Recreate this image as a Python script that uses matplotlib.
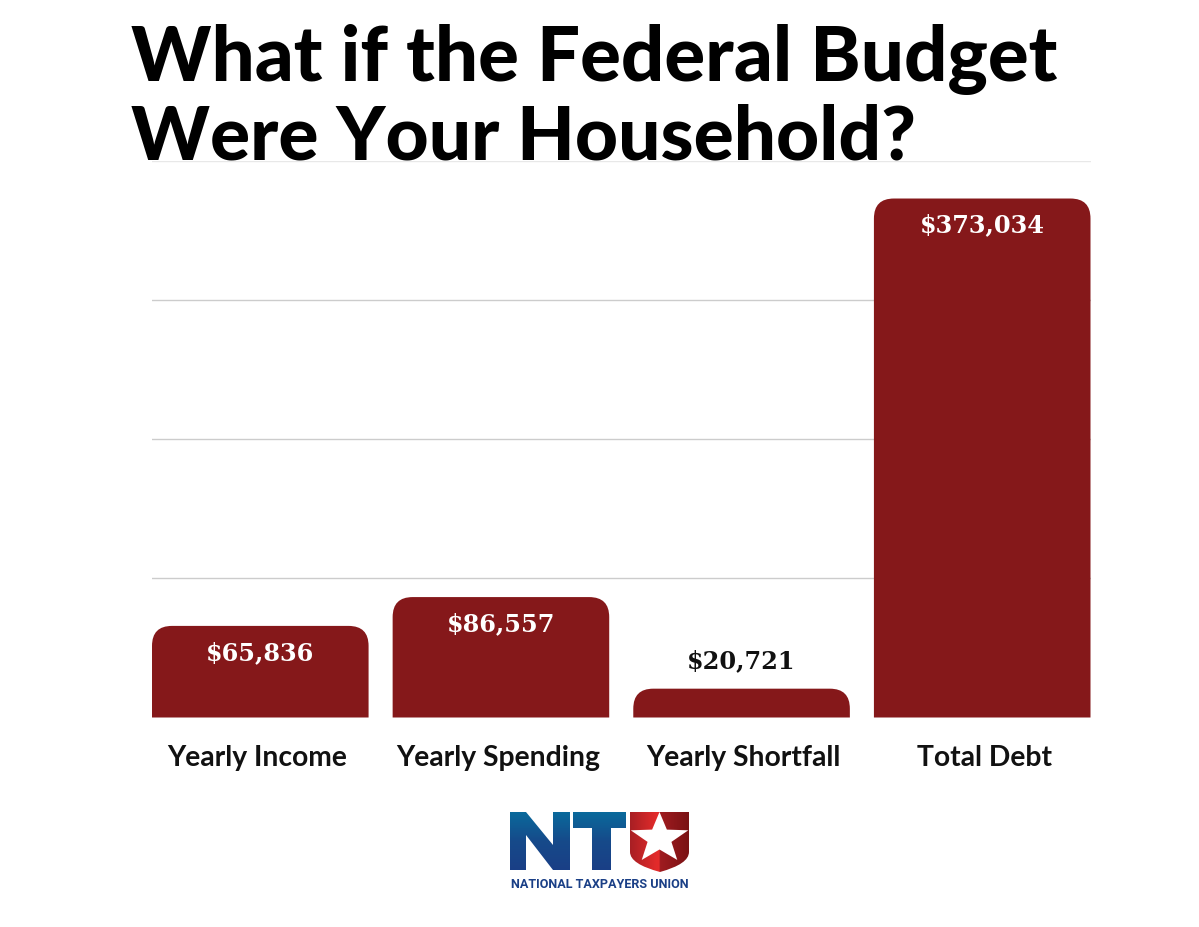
import numpy as np
import matplotlib
matplotlib.use("Agg")
import matplotlib.pyplot as plt
from matplotlib.colors import LinearSegmentedColormap
from matplotlib.patches import PathPatch, Polygon
from matplotlib.path import Path
from matplotlib.transforms import ScaledTranslation

# data
categories = ["Yearly Income", "Yearly Spending", "Yearly Shortfall", "Total Debt"]
values = [65836, 86557, 20721, 373034]
value_labels = ["$65,836", "$86,557", "$20,721", "$373,034"]
grid_values = [100000, 200000, 300000]

W, H = 1199, 927
BAR_COLOR = "#85181a"
SERIF = ["DejaVu Serif", "Liberation Serif"]

plt.rcParams["font.family"] = ["Lato", "DejaVu Sans"]
fig = plt.figure(figsize=(W / 100, H / 100), dpi=100)
fig.patch.set_facecolor("white")

# main axes, placed in pixels
left, right, top, bottom = 152, 1090.5, 161, 717.5
ax = fig.add_axes([left / W, 1 - bottom / H, (right - left) / W, (bottom - top) / H])
ax.set_xlim(-0.45, 3.45)
ax.set_ylim(0, 400000)
for s in ax.spines.values():
    s.set_visible(False)
ax.set_yticks([])
ax.set_xticks(range(len(categories)))
ax.set_xticklabels(categories, fontsize=20.3, fontweight="bold", color="#111111")
ax.tick_params(axis="x", length=0, pad=20)

# the labels are not quite centred under the bars
label_shift = [-3, -2.5, 1.5, 2.5]
for lab, dx in zip(ax.get_xticklabels(), label_shift):
    lab.set_transform(lab.get_transform() + ScaledTranslation(dx / 100, 0, fig.dpi_scale_trans))

for g in grid_values:
    ax.axhline(g, color="#cccccc", lw=1, zorder=1)
ax.axhline(400000, color="#e8e8e8", lw=1, zorder=1)


def rounded_bar(x, h, width=0.9, r_px=20):
    # only the two top corners are round
    rx = r_px * 3.9 / (right - left)
    ry = r_px * 400000 / (bottom - top)
    x0, x1 = x - width / 2, x + width / 2
    verts = [(x0, 0), (x0, h - ry), (x0, h), (x0 + rx, h), (x1 - rx, h),
             (x1, h), (x1, h - ry), (x1, 0), (x0, 0)]
    codes = [Path.MOVETO, Path.LINETO, Path.CURVE3, Path.CURVE3, Path.LINETO,
             Path.CURVE3, Path.CURVE3, Path.LINETO, Path.CLOSEPOLY]
    return PathPatch(Path(verts, codes), facecolor=BAR_COLOR, edgecolor="none", zorder=2)


for i, v in enumerate(values):
    ax.add_patch(rounded_bar(i, v))
    if v > 50000:
        ax.annotate(value_labels[i], (i, v), xytext=(0, -15), textcoords="offset pixels",
                    ha="center", va="top", color="white", fontsize=17.3, fontweight="bold",
                    family=SERIF, zorder=3)
    else:
        ax.annotate(value_labels[i], (i, v), xytext=(0, 16), textcoords="offset pixels",
                    ha="center", va="bottom", color="#111111", fontsize=17.3, fontweight="bold",
                    family=SERIF, zorder=3)

# title
fig.text(131 / W, 1 - 81 / H, "What if the Federal Budget", fontsize=54.8, fontweight="black",
         color="black", ha="left", va="baseline")
fig.text(131 / W, 1 - 160 / H, "Were Your Household?", fontsize=53.8, fontweight="black",
         color="black", ha="left", va="baseline")

# logo, overlay axes in pixel coordinates
lg = fig.add_axes([0, 0, 1, 1], facecolor="none")
lg.set_xlim(0, W)
lg.set_ylim(H, 0)
lg.axis("off")

blue = LinearSegmentedColormap.from_list("blue", ["#0a6a9c", "#164a8a", "#1a3f86"])
red = LinearSegmentedColormap.from_list(
    "red", [(0, "#a81f24"), (0.45, "#e32b2b"), (0.5, "#e32b2b"), (0.51, "#a01c20"), (1, "#7a1214")])


def gradient_shape(path, cmap, extent, horizontal=False):
    g = np.linspace(0, 1, 128)
    g = g.reshape(1, -1) if horizontal else g.reshape(-1, 1)
    im = lg.imshow(g, cmap=cmap, extent=extent, aspect="auto", zorder=4)
    patch = PathPatch(path, transform=lg.transData, facecolor="none", edgecolor="none")
    lg.add_patch(patch)
    im.set_clip_path(patch)


n_pts = [(510, 812), (526, 812), (553, 845), (553, 812), (570, 812), (570, 870),
         (553, 870), (526, 835), (526, 870), (510, 870), (510, 812)]
t_pts = [(573, 812), (626, 812), (626, 828), (611, 828), (611, 870), (592, 870),
         (592, 828), (573, 828), (573, 812)]
shield_verts = [(630, 812), (689, 812), (689, 852), (689, 864), (660, 872),
                (630, 864), (630, 852), (630, 812)]
shield_codes = [Path.MOVETO, Path.LINETO, Path.LINETO, Path.CURVE3, Path.CURVE3,
                Path.CURVE3, Path.CURVE3, Path.CLOSEPOLY]
gradient_shape(Path(n_pts), blue, (510, 570, 870, 812))
gradient_shape(Path(t_pts), blue, (573, 626, 870, 812))
gradient_shape(Path(shield_verts, shield_codes), red, (630, 689, 872, 812), horizontal=True)

# star, a bit wider than a regular one
cx, cy = 659.5, 838.5
angles = np.deg2rad(-90 + 36 * np.arange(10))
radii = np.where(np.arange(10) % 2 == 0, 26.5, 11)
star = np.column_stack([cx + 1.14 * radii * np.cos(angles), cy + radii * np.sin(angles)])
lg.add_patch(Polygon(star, closed=True, facecolor="white", edgecolor="none", zorder=5))

lg.text(599.5, 885, "NATIONAL TAXPAYERS UNION", ha="center", va="center", fontsize=9.1,
        fontweight="bold", color="#1a3f86", family=["Roboto", "DejaVu Sans"], zorder=5)
lg.set_xlim(0, W)
lg.set_ylim(H, 0)

fig.savefig("out.png", dpi=100)
